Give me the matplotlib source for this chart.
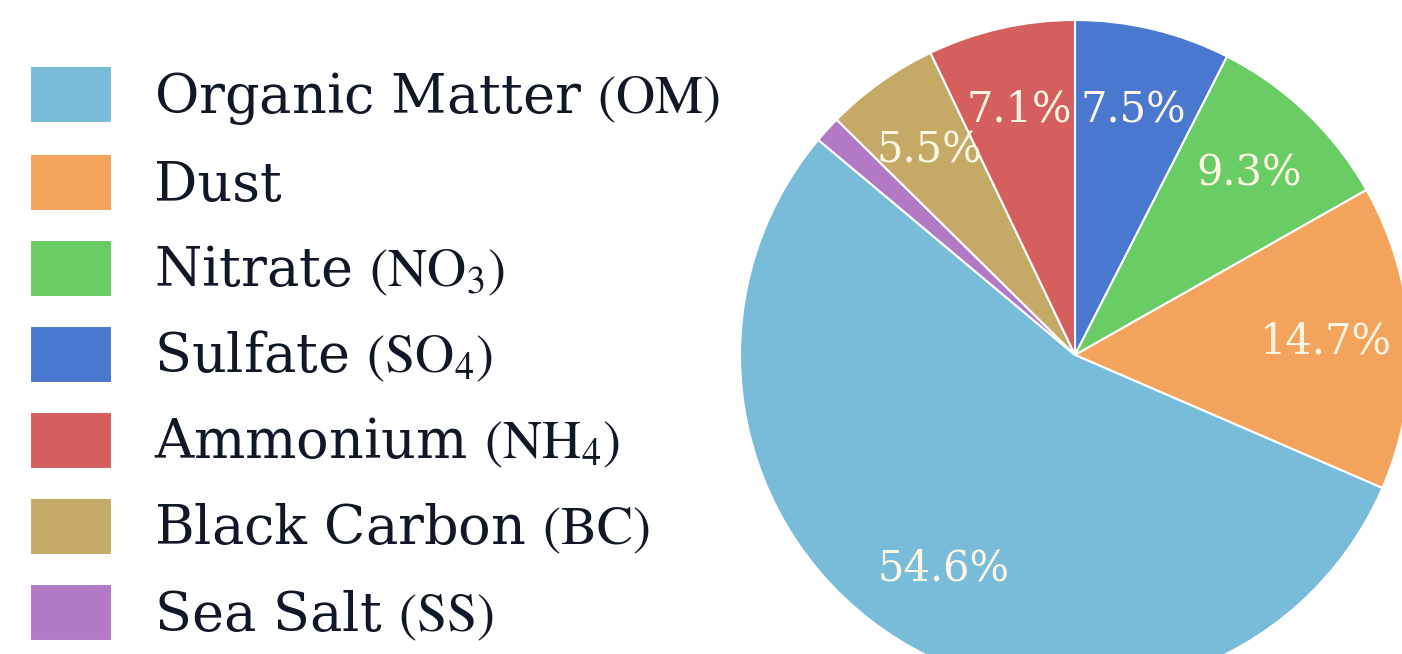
import matplotlib
matplotlib.use("Agg")
import matplotlib.pyplot as plt

# PM2.5 composition shares (%)
components = ["Sulfate", "Nitrate", "Dust", "Organic Matter", "Sea Salt", "Black Carbon", "Ammonium"]
shares = [7.5, 9.3, 14.7, 54.6, 1.3, 5.5, 7.1]
legend_labels = {
    "Organic Matter": r"Organic Matter $(\mathrm{OM})$",
    "Dust": "Dust",
    "Nitrate": r"Nitrate $(\mathrm{NO_3})$",
    "Sulfate": r"Sulfate $(\mathrm{SO_4})$",
    "Ammonium": r"Ammonium $(\mathrm{NH_4})$",
    "Black Carbon": r"Black Carbon $(\mathrm{BC})$",
    "Sea Salt": r"Sea Salt $(\mathrm{SS})$",
}
legend_order = ["Organic Matter", "Dust", "Nitrate", "Sulfate", "Ammonium", "Black Carbon", "Sea Salt"]
colours = {
    "Organic Matter": "#78bcd9",
    "Dust": "#f4a35d",
    "Nitrate": "#6acc64",
    "Sulfate": "#4a78cf",
    "Ammonium": "#d55f5f",
    "Black Carbon": "#c4aa66",
    "Sea Salt": "#b27ac4",
}

plt.rcParams["font.family"] = "DejaVu Serif"
plt.rcParams["mathtext.fontset"] = "stix"

W, H, DPI = 1402, 654, 100
fig = plt.figure(figsize=(W / DPI, H / DPI), dpi=DPI)

# pie centre / radius in pixels
cx, cy, r = 1075, H - 355, 335
ax = fig.add_axes([(cx - r) / W, (cy - r) / H, 2 * r / W, 2 * r / H])


def pct_label(p):
    return f"{p:.1f}%" if p >= 2 else ""


wedges, _, autotexts = ax.pie(
    shares,
    colors=[colours[c] for c in components],
    startangle=90,
    counterclock=False,
    autopct=pct_label,
    pctdistance=0.75,
    wedgeprops=dict(edgecolor="white", linewidth=1.5),
    textprops=dict(color="#fdf6e3", fontsize=30),
)
ax.set_xlim(-1, 1)
ax.set_ylim(-1, 1)
ax.set_aspect("equal")
ax.axis("off")

by_name = dict(zip(components, wedges))
fig.legend(
    [by_name[c] for c in legend_order],
    [legend_labels[c] for c in legend_order],
    loc="upper left",
    bbox_to_anchor=(8 / W, 1 - 44 / H),
    frameon=False,
    fontsize=39,
    handlelength=1.52,
    handleheight=1.25,
    handletextpad=0.78,
    labelspacing=0.51,
    labelcolor="#101828",
    borderaxespad=0,
)

fig.savefig("out.png", dpi=DPI)
